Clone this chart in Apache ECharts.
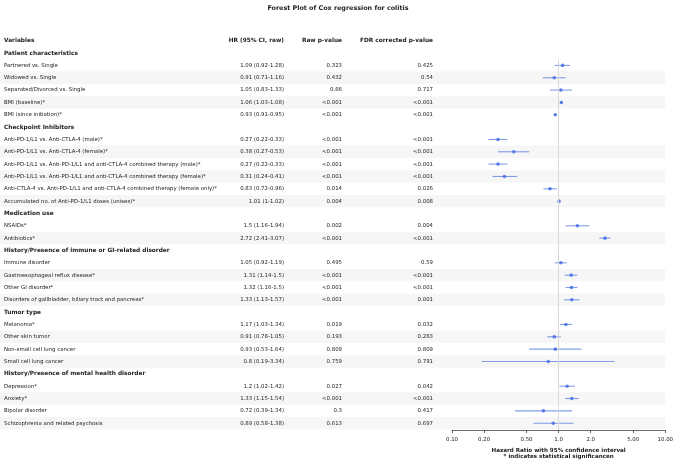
<!DOCTYPE html>
<html>
<head>
<meta charset="utf-8">
<script src="https://cdn.jsdelivr.net/npm/echarts@6/dist/echarts.min.js"></script>
<style>
  html, body { margin: 0; padding: 0; background: #fff; }
  #chart { width: 676px; height: 465px; }
</style>
</head>
<body>
<div id="chart"></div>
<script>
// groups and variables, in plot order
const groups = [
  'Patient characteristics',
  'Checkpoint Inhibitors',
  'Medication use',
  'History/Presence of immune or GI-related disorder',
  'Tumor type',
  'History/Presence of mental health disorder'
]
const variableGroup = [0, 0, 0, 0, 0, 1, 1, 1, 1, 1, 1, 2, 2, 3, 3, 3, 3, 4, 4, 4, 4, 5, 5, 5, 5]
const variables = [
  'Partnered vs. Single',
  'Widowed vs. Single',
  'Separated/Divorced vs. Single',
  'BMI (baseline)*',
  'BMI (since initiation)*',
  'Anti-PD-1/L1 vs. Anti-CTLA-4 (male)*',
  'Anti-PD-1/L1 vs. Anti-CTLA-4 (female)*',
  'Anti-PD-1/L1 vs. Anti-PD-1/L1 and anti-CTLA-4 combined therapy (male)*',
  'Anti-PD-1/L1 vs. Anti-PD-1/L1 and anti-CTLA-4 combined therapy (female)*',
  'Anti-CTLA-4 vs. Anti-PD-1/L1 and anti-CTLA-4 combined therapy (female only)*',
  'Accumulated no. of Anti-PD-1/L1 doses (unisex)*',
  'NSAIDs*',
  'Antibiotics*',
  'Immune disorder',
  'Gastroesophageal reflux disease*',
  'Other GI disorder*',
  'Disorders of gallbladder, biliary tract and pancreas*',
  'Melanoma*',
  'Other skin tumor',
  'Non-small cell lung cancer',
  'Small cell lung cancer',
  'Depression*',
  'Anxiety*',
  'Bipolar disorder',
  'Schizophrenia and related psychosis'
]
const hrValues = [1.09, 0.91, 1.05, 1.06, 0.93, 0.27, 0.38, 0.27, 0.31, 0.83, 1.01, 1.5, 2.72, 1.05, 1.31, 1.32, 1.33, 1.17, 0.91, 0.93, 0.8, 1.2, 1.33, 0.72, 0.89]
const ciLower = [0.92, 0.71, 0.83, 1.03, 0.91, 0.22, 0.27, 0.22, 0.24, 0.72, 1, 1.16, 2.41, 0.92, 1.14, 1.16, 1.13, 1.03, 0.78, 0.53, 0.19, 1.02, 1.15, 0.39, 0.58]
const ciUpper = [1.28, 1.16, 1.33, 1.08, 0.95, 0.33, 0.53, 0.33, 0.41, 0.96, 1.02, 1.94, 3.07, 1.19, 1.5, 1.5, 1.57, 1.34, 1.05, 1.64, 3.34, 1.42, 1.54, 1.34, 1.38]
const rawP = ['0.323', '0.432', '0.66', '<0.001', '<0.001', '<0.001', '<0.001', '<0.001', '<0.001', '0.014', '0.004', '0.002', '<0.001', '0.495', '<0.001', '<0.001', '<0.001', '0.019', '0.193', '0.809', '0.759', '0.027', '<0.001', '0.3', '0.613']
const fdrP = ['0.425', '0.54', '0.717', '<0.001', '<0.001', '<0.001', '<0.001', '<0.001', '<0.001', '0.026', '0.008', '0.004', '<0.001', '0.59', '<0.001', '<0.001', '0.001', '0.032', '0.283', '0.809', '0.791', '0.042', '<0.001', '0.417', '0.697']
const columnHeaders = ['Variables', 'HR (95% CI, raw)', 'Raw p-value', 'FDR corrected p-value']
const xTicks = [0.1, 0.2, 0.5, 1, 2, 5, 10]
const xTickLabels = ['0.10', '0.20', '0.50', '1.0', '2.0', '5.00', '10.00']

// build the row layout: a header row per group, then its variables
const rows = []
rows.push({ type: 'columns', row: -1 })
let r = 0
groups.forEach((g, gi) => {
  rows.push({ type: 'group', row: r, name: g })
  r++
  let k = 0
  variableGroup.forEach((vg, i) => {
    if (vg !== gi) return
    rows.push({ type: 'item', row: r, idx: i, shaded: k % 2 === 1 })
    r++
    k++
  })
})
const itemRows = rows.filter(d => d.type === 'item')

const FONT = 'DejaVu Sans'
const TEXT_COLOR = '#222'
const colX = { name: 4, hr: 284, raw: 342, fdr: 433 }

const chart = echarts.init(document.getElementById('chart'))

const option = {
  animation: false,
  backgroundColor: '#fff',
  title: {
    text: 'Forest Plot of Cox regression for colitis',
    left: 'center',
    top: 5,
    padding: 0,
    textStyle: { fontFamily: FONT, fontSize: 6.4, fontWeight: 'bold', color: TEXT_COLOR }
  },
  grid: { left: 452, right: 9, top: 59.25, bottom: 30 },
  xAxis: {
    type: 'log',
    logBase: 10,
    min: 0.1,
    max: 10,
    name: 'Hazard Ratio with 95% confidence interval\n* indicates statistical significancen',
    nameLocation: 'middle',
    nameGap: 15,
    nameTextStyle: { fontFamily: FONT, fontSize: 5.6, fontWeight: 'bold', color: TEXT_COLOR, lineHeight: 6.5 },
    axisLine: { lineStyle: { color: '#444', width: 0.8 } },
    axisTick: { customValues: xTicks, length: 3, lineStyle: { color: '#444', width: 0.8 } },
    axisLabel: {
      customValues: xTicks,
      margin: 7,
      fontFamily: FONT,
      fontSize: 5.4,
      color: TEXT_COLOR,
      formatter: v => {
        const i = xTicks.findIndex(t => Math.abs(t - v) < 1e-9)
        return i >= 0 ? xTickLabels[i] : ''
      }
    },
    splitLine: { show: false },
    minorTick: { show: false }
  },
  yAxis: {
    type: 'value',
    min: 0.5,
    max: 30.56,
    inverse: true,
    show: false,
    splitLine: { show: false }
  },
  series: [
    {
      // alternating row shading
      type: 'custom',
      z: 0,
      clip: false,
      silent: true,
      data: itemRows.filter(d => d.shaded).map(d => [1, d.row]),
      renderItem: (params, api) => {
        const c = api.coord([10, api.value(1)])
        const h = api.size([0, 1])[1]
        return {
          type: 'rect',
          shape: { x: 0, y: c[1] - h / 2, width: c[0], height: h },
          style: { fill: '#f6f6f6' }
        }
      }
    },
    {
      // table text
      type: 'custom',
      z: 2,
      clip: false,
      silent: true,
      data: rows.map(d => [1, d.row]),
      renderItem: (params, api) => {
        const d = rows[params.dataIndex]
        const y = api.coord([1, api.value(1)])[1]
        const txt = (x, s, align, bold) => ({
          type: 'text',
          style: {
            x: x, y: y, text: s, align: align, verticalAlign: 'middle',
            fontFamily: FONT, fontSize: bold ? 5.8 : 5.4,
            fontWeight: bold ? 'bold' : 'normal', fill: TEXT_COLOR
          }
        })
        if (d.type === 'columns') {
          return { type: 'group', children: [
            txt(colX.name, columnHeaders[0], 'left', true),
            txt(colX.hr, columnHeaders[1], 'right', true),
            txt(colX.raw, columnHeaders[2], 'right', true),
            txt(colX.fdr, columnHeaders[3], 'right', true)
          ] }
        }
        if (d.type === 'group') {
          return txt(colX.name, d.name, 'left', true)
        }
        const i = d.idx
        return { type: 'group', children: [
          txt(colX.name, variables[i], 'left', false),
          txt(colX.hr, `${hrValues[i]} (${ciLower[i]}-${ciUpper[i]})`, 'right', false),
          txt(colX.raw, rawP[i], 'right', false),
          txt(colX.fdr, fdrP[i], 'right', false)
        ] }
      }
    },
    {
      // confidence intervals
      type: 'custom',
      z: 3,
      silent: true,
      data: itemRows.map(d => [ciLower[d.idx], d.row, ciUpper[d.idx]]),
      renderItem: (params, api) => {
        const a = api.coord([api.value(0), api.value(1)])
        const b = api.coord([api.value(2), api.value(1)])
        return {
          type: 'line',
          shape: { x1: a[0], y1: a[1], x2: b[0], y2: b[1] },
          style: { stroke: 'rgba(65,105,225,0.65)', lineWidth: 1.1 }
        }
      }
    },
    {
      type: 'scatter',
      z: 4,
      symbol: 'circle',
      symbolSize: 3.6,
      silent: true,
      itemStyle: { color: '#4169e1' },
      data: itemRows.map(d => [hrValues[d.idx], d.row]),
      markLine: {
        silent: true,
        symbol: 'none',
        label: { show: false },
        lineStyle: { color: '#d9d9d9', width: 1, type: 'solid' },
        data: [{ xAxis: 1 }]
      }
    }
  ]
}

chart.setOption(option)
</script>
</body>
</html>
